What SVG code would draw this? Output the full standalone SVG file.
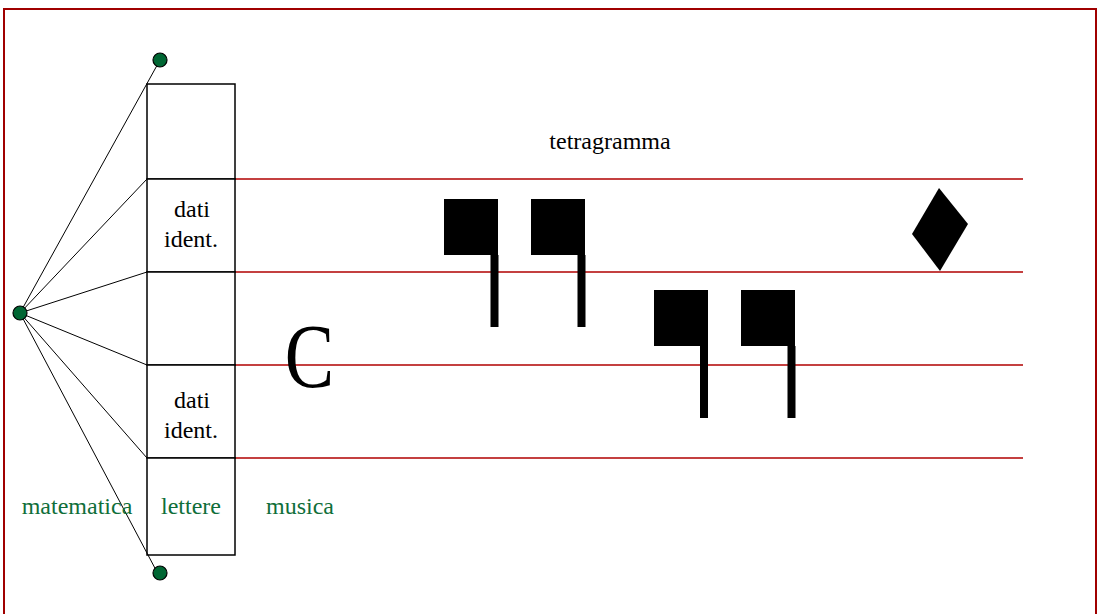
<svg xmlns="http://www.w3.org/2000/svg" width="1099" height="614" viewBox="0 0 1099 614">
<style>
.t{font-family:"Liberation Serif","Times New Roman",serif;font-size:24px;fill:#000;text-anchor:middle}
.g{fill:#0f6e3a}
.staff{stroke:#b00000;stroke-width:1.5}
.cell{fill:#fff;stroke:#000;stroke-width:1.5}
.dot{fill:#006633;stroke:#000;stroke-width:1.2}
.link{stroke:#000;stroke-width:1}
</style>
<rect width="1099" height="614" fill="#fff"/>
<rect x="4" y="9" width="1092" height="612" fill="none" stroke="#a00000" stroke-width="2"/>
<g id="staff">
<line class="staff" x1="235" y1="179" x2="1023" y2="179"/>
<line class="staff" x1="235" y1="272" x2="1023" y2="272"/>
<line class="staff" x1="235" y1="365" x2="1023" y2="365"/>
<line class="staff" x1="235" y1="458" x2="1023" y2="458"/>
</g>
<g id="column">
<rect class="cell" x="147" y="84" width="88" height="95"/>
<rect class="cell" x="147" y="179" width="88" height="93"/>
<rect class="cell" x="147" y="272" width="88" height="93"/>
<rect class="cell" x="147" y="365" width="88" height="93"/>
<rect class="cell" x="147" y="458" width="88" height="97"/>
<text class="t" x="192" y="217">dati</text>
<text class="t" x="191" y="247">ident.</text>
<text class="t" x="192" y="408">dati</text>
<text class="t" x="191" y="438">ident.</text>
</g>
<g id="connectors">
<line class="link" x1="20" y1="313" x2="160" y2="60"/>
<line class="link" x1="20" y1="313" x2="147" y2="179"/>
<line class="link" x1="20" y1="313" x2="147" y2="272"/>
<line class="link" x1="20" y1="313" x2="147" y2="365"/>
<line class="link" x1="20" y1="313" x2="147" y2="458"/>
<line class="link" x1="20" y1="313" x2="157" y2="572"/>
</g>
<g id="dots">
<circle class="dot" cx="20" cy="313" r="7"/>
<circle class="dot" cx="160" cy="60" r="7"/>
<circle class="dot" cx="160" cy="573" r="7"/>
</g>
<g id="labels">
<text class="t g" x="77" y="514">matematica</text>
<text class="t g" x="191" y="514">lettere</text>
<text class="t g" x="300" y="514">musica</text>
<text class="t" x="610" y="149">tetragramma</text>
</g>
<g id="clef">
<text x="309.5" y="0" transform="translate(0,387) scale(1,1.22)" style="font-family:'Liberation Serif','Times New Roman',serif;font-size:74px;text-anchor:middle">C</text>
</g>
<g id="notes" fill="#000">
<rect x="444" y="199" width="54" height="56"/>
<rect x="490.5" y="255" width="8" height="72"/>
<rect x="531" y="199" width="54" height="56"/>
<rect x="577.5" y="255" width="8" height="72"/>
<rect x="654" y="290" width="54" height="56"/>
<rect x="700" y="346" width="8" height="72"/>
<rect x="741" y="290" width="54" height="56"/>
<rect x="787.5" y="346" width="8" height="72"/>
<polygon points="939,188 968,224 940,271 912,234"/>
</g>
</svg>
